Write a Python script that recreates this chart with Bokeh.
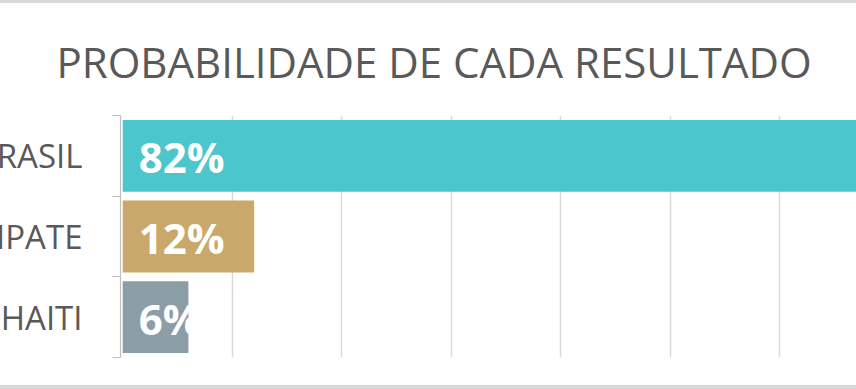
from bokeh.plotting import figure
from bokeh.models import (Range1d, LinearAxis, FixedTicker, ColumnDataSource, Grid)
from bokeh.core.properties import value
from bokeh.embed import file_html
from bokeh.resources import INLINE

# ---- data ----
title_text = "PROBABILIDADE DE CADA RESULTADO"
categories = ["BRASIL", "EMPATE", "HAITI"]
values = [82, 12, 6]
colors = ["#4CC5CD", "#C9A96B", "#8B9EA7"]
grid_ticks = [10, 20, 30, 40, 50, 60]

n = len(categories)
ypos = [n - i - 0.5 for i in range(n)]
labels = [f"{v}%" for v in values]
src = ColumnDataSource(dict(y=ypos, val=values, col=colors, lab=labels))

SHIFT = 50
p = figure(
    width=856 + SHIFT, height=389,
    y_range=Range1d(0, n),
    x_range=Range1d(-0.2, 67.0),
    x_axis_location=None, y_axis_location=None,
    output_backend="svg", toolbar_location=None,
    min_border_left=120 + SHIFT, min_border_right=0,
    min_border_top=112, min_border_bottom=35,
    title=title_text,
)
p.styles = {"margin-left": f"-{SHIFT}px",
            "border-top": "3px solid #d9d9d9",
            "border-bottom": "4px solid #d9d9d9"}
p.outline_line_color = None
p.background_fill_color = "white"
p.border_fill_color = "white"

p.title.text_font = "Open Sans"
p.title.text_font_size = "42px"
p.title.text_font_style = "normal"
p.title.text_color = "#595959"
p.title.align = "left"
p.title.offset = -64
p.title.standoff = 52

# grid
p.ygrid.visible = False
p.xgrid.visible = False
p.add_layout(Grid(dimension=0, ticker=FixedTicker(ticks=grid_ticks),
                  grid_line_color="#D9D9D9", grid_line_width=1.5))

# tick axis (category boundaries)
bounds = list(range(n + 1))
tick_axis = LinearAxis(ticker=FixedTicker(ticks=bounds),
                       major_label_overrides={b: "" for b in bounds},
                       minor_tick_line_color=None,
                       major_tick_in=0, major_tick_out=8,
                       major_tick_line_color="#BFBFBF",
                       axis_line_color="#BFBFBF", axis_line_width=1.2,
                       major_label_standoff=0)
p.add_layout(tick_axis, "left")

cat_axis = LinearAxis(ticker=FixedTicker(ticks=ypos),
                      major_label_overrides={y: c for y, c in zip(ypos, categories)},
                      axis_line_color=None, major_tick_line_color=None,
                      minor_tick_line_color=None,
                      major_label_text_font="Open Sans",
                      major_label_text_font_size="33px",
                      major_label_text_color="#595959",
                      major_label_standoff=24)
p.add_layout(cat_axis, "left")

p.hbar(y="y", left=0, right="val", height=0.89, fill_color="col",
       line_color=None, source=src)
p.text(x=0, y="y", text="lab", x_offset=16, y_offset=1,
       text_baseline="middle", text_align="left",
       text_font=value("Open Sans"), text_font_style="bold",
       text_font_size="42px", text_color="white", source=src)

open("out.html", "w").write(file_html(p, INLINE))
